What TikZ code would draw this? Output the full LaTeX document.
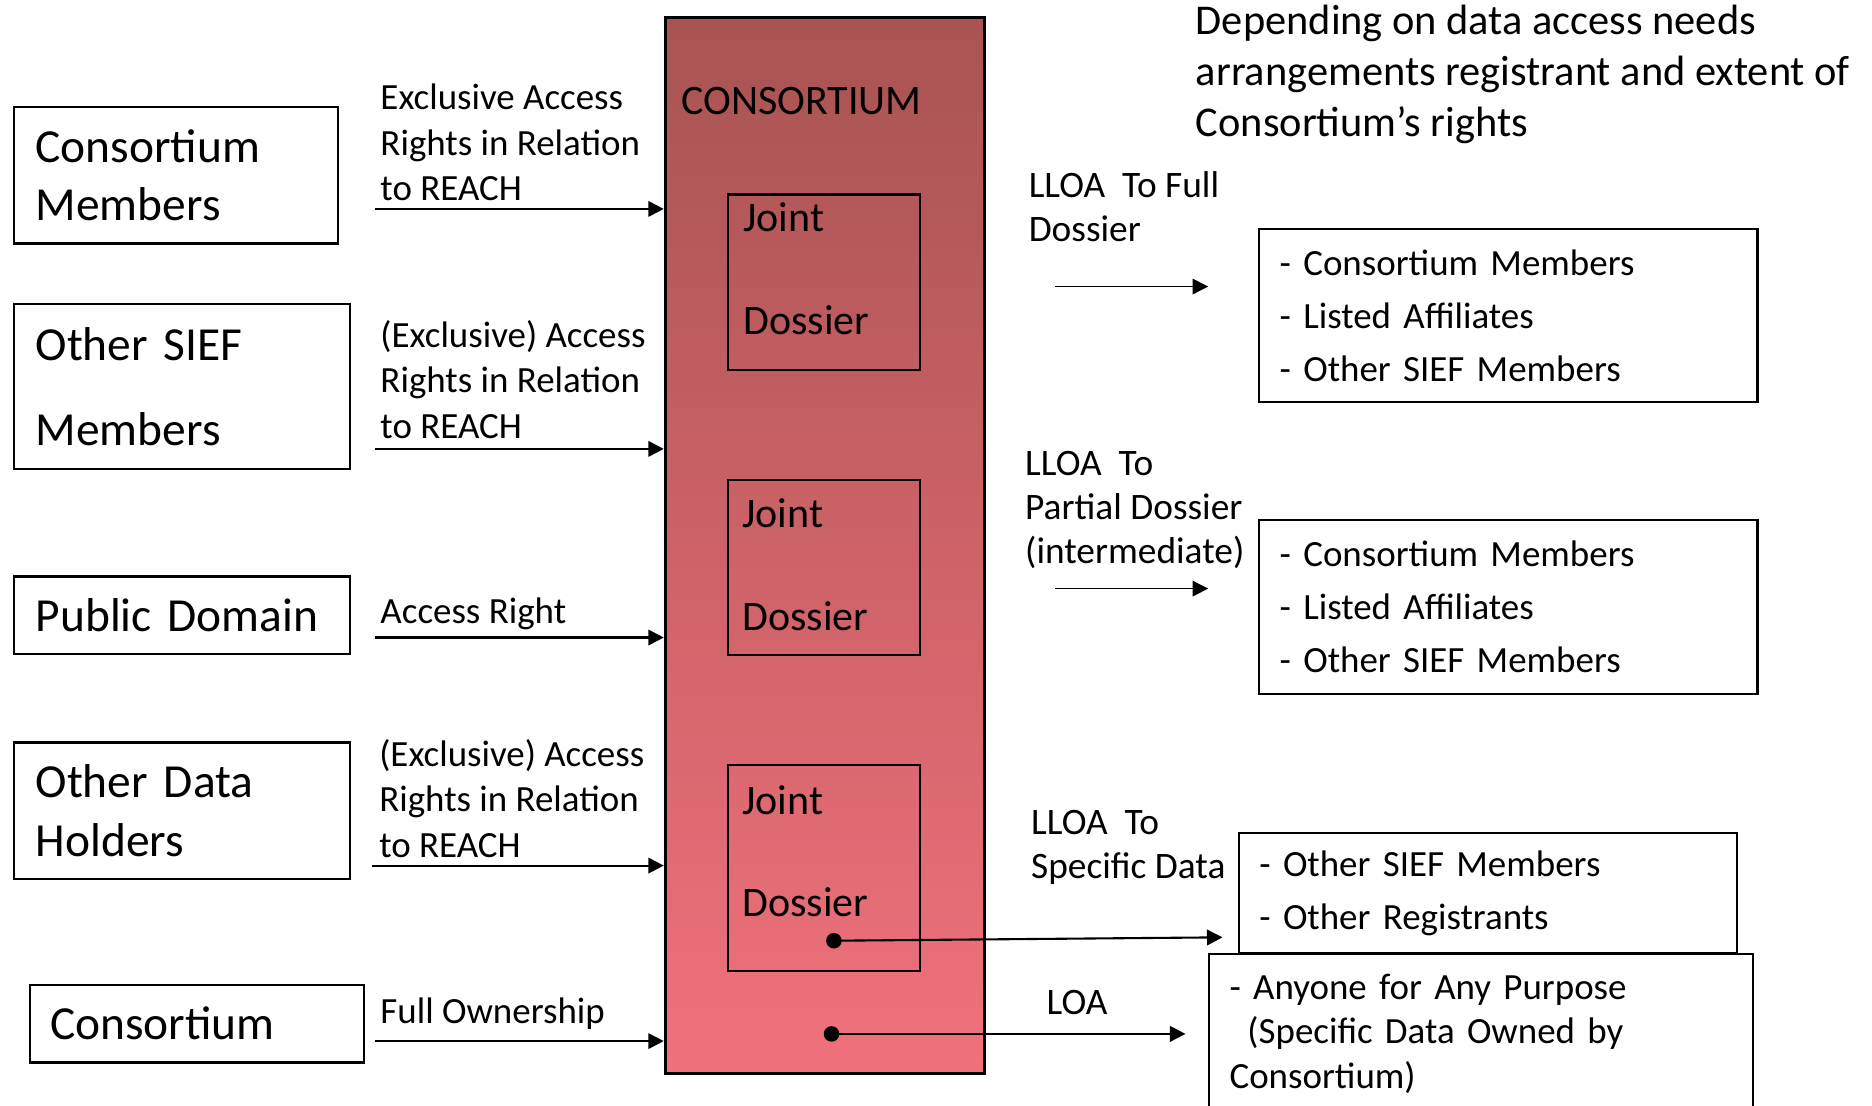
\documentclass[tikz,border=0pt]{standalone}
\usepackage{fontspec}
\setmainfont{Carlito}
\usetikzlibrary{arrows.meta,calc}

\definecolor{constop}{RGB}{168,83,82}
\definecolor{consbot}{RGB}{240,113,124}

\tikzset{
	srcbox/.style={draw, line width=0.5pt, anchor=north west, align=left, inner xsep=0.18cm, inner ysep=0pt, font=\fontsize{11.3}{13.9}\selectfont},
	bigbox/.style={draw, line width=0.8pt, top color=constop, bottom color=consbot, anchor=north west, minimum width=2.67cm, inner sep=0pt},
	jdbox/.style={draw, line width=0.5pt, anchor=north west, minimum width=1.61cm, inner sep=0pt},
	listbox/.style={draw, line width=0.5pt, anchor=north west, align=left, inner xsep=0.17cm, inner ysep=0pt, fill=white, font=\fontsize{8.8}{12.6}\selectfont},
	edgetxt/.style={anchor=base west, align=left, inner sep=0pt, font=\fontsize{8.8}{10.8}\selectfont},
	lloatxt/.style={anchor=base west, align=left, inner sep=0pt, font=\fontsize{8.9}{10.5}\selectfont},
	jdtxt/.style={anchor=base west, align=left, inner sep=0pt, font=\fontsize{10}{24.4}\selectfont},
	arr/.style={line width=0.5pt, -{Triangle[length=0.13cm, width=0.13cm]}},
	thinarr/.style={line width=0.3pt, -{Triangle[length=0.13cm, width=0.13cm]}},
	dotarr/.style={line width=0.5pt, {Circle[length=0.13cm]}-{Triangle[length=0.13cm, width=0.13cm]}}
}

\begin{document}
\begin{tikzpicture}[x=0.01cm, y=-0.01cm]
	%%%%% START %%%%%
	\useasboundingbox (0,0) rectangle (1568,926);
	\clip (0,0) rectangle (1568,926);

	% sources on the left
	\node[srcbox, text width=2.35cm, minimum height=1.14cm] (cmem) at (11,89) {Consortium\\Members};
	\node[srcbox, text width=2.45cm, minimum height=1.38cm, font=\fontsize{11.3}{20.4}\selectfont] (osief) at (11,254) {Other SIEF\\Members};
	\node[srcbox, text width=2.45cm, minimum height=0.65cm] (pubd) at (11,482) {Public Domain};
	\node[srcbox, text width=2.45cm, minimum height=1.14cm] (odh) at (11,621) {Other Data\\Holders};
	\node[srcbox, text width=2.46cm, minimum height=0.65cm, inner xsep=0.17cm] (csrc) at (24,824) {Consortium};

	% the consortium
	\node[bigbox, minimum height=8.84cm] (cons) at (556,13) {};
	\node[anchor=base west, inner sep=0pt, font=\fontsize{10}{12}\selectfont] (constitle) at (570,96) {CONSORTIUM};

	\node[jdbox, minimum height=1.47cm] (jd1) at (609,162) {};
	\node[jdbox, minimum height=1.47cm] (jd2) at (609,401) {};
	\node[jdbox, minimum height=1.72cm] (jd3) at (609,640) {};
	\node[jdtxt] (jd1txt) at (622,280) {Joint\\Dossier};
	\node[jdtxt] (jd2txt) at (621,528) {Joint\\Dossier};
	\node[jdtxt] (jd3txt) at (621,768) {Joint\\Dossier};

	% rights coming in
	\coordinate (in1) at (314,175);
	\coordinate (in2) at (314,376);
	\coordinate (in3) at (314,534);
	\coordinate (in4) at (312,725);
	\coordinate (in5) at (314,872);
	\foreach \i in {1,...,5}
		\draw[arr] (in\i) -- (in\i -| cons.west);

	\node[edgetxt] (lbl1) at (318,168) {Exclusive Access\\Rights in Relation\\to REACH};
	\node[edgetxt] (lbl2) at (318,367) {(Exclusive) Access\\Rights in Relation\\to REACH};
	\node[edgetxt] (lbl3) at (318,522) {Access Right};
	\node[edgetxt] (lbl4) at (317,718) {(Exclusive) Access\\Rights in Relation\\to REACH};
	\node[edgetxt] (lbl5) at (318,857) {Full Ownership};

	% who gets access
	\node[anchor=base west, align=left, inner sep=0pt, font=\fontsize{10.1}{12.1}\selectfont] (note) at (1001,114) {Depending on data access needs\\arrangements registrant and extent of\\Consortium’s rights};

	\node[listbox, text width=3.83cm, minimum height=1.45cm] (list1) at (1054,191) {- Consortium Members\\- Listed Affiliates\\- Other SIEF Members};
	\node[listbox, text width=3.83cm, minimum height=1.45cm] (list2) at (1054,435) {- Consortium Members\\- Listed Affiliates\\- Other SIEF Members};
	\node[listbox, text width=3.83cm, minimum height=1.00cm] (list3) at (1037,697) {- Other SIEF Members\\- Other Registrants};
	\node[listbox, text width=4.21cm, minimum height=1.34cm, font=\fontsize{8.8}{10.5}\selectfont] (list4) at (1012,798) {- Anyone for Any Purpose\\\hspace*{0.15cm}(Specific Data Owned by\\Consortium)};

	\node[lloatxt] (lloa1) at (861,202) {LLOA\ \ To Full\\Dossier};
	\node[lloatxt] (lloa2) at (858,472) {LLOA\ \ To\\Partial Dossier\\(intermediate)};
	\node[lloatxt] (lloa3) at (863,736) {LLOA\ \ To\\Specific Data};
	\node[lloatxt] (loa) at (876,850) {LOA};

	\coordinate (out1) at (884,240);
	\coordinate (out2) at (884,493);
	\draw[thinarr, shorten >=0.42cm] (out1) -- (out1 -| list1.west);
	\draw[thinarr, shorten >=0.42cm] (out2) -- (out2 -| list2.west);

	\coordinate (dot1) at (692,788);
	\coordinate (dot2) at (690,866);
	\draw[dotarr, shorten >=0.13cm] (dot1) -- ($(dot1 -| list3.west)+(0,-3)$);
	\draw[dotarr, shorten >=0.19cm] (dot2) -- (dot2 -| list4.west);
	%%%%% END %%%%%
\end{tikzpicture}
\end{document}
